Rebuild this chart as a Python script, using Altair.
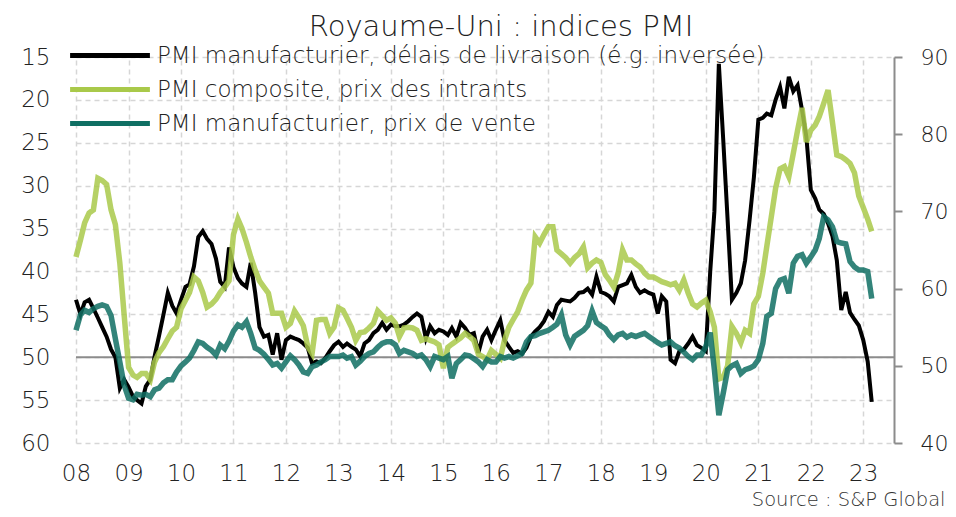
import altair as alt
import pandas as pd

# Monthly data, Jan 2008 -> Mar 2023
start, end = "2008-01-01", "2023-03-01"

delais_livraison = [  # PMI manufacturier, délais de livraison (left axis, inverted)
    43.3, 45.0, 43.6, 43.3, 44.3, 45.4, 46.5, 47.6, 49.1, 50.0, 53.6, 52.6,
    53.5, 54.6, 55.0, 55.4, 53.4, 52.6, 49.9, 47.5, 45.0, 42.5, 44.0, 44.9,
    43.3, 41.8, 41.5, 39.4, 36.0, 35.3, 36.2, 36.8, 38.5, 41.2, 41.8, 37.2,
    39.5, 40.8, 41.4, 41.8, 39.0, 42.5, 46.5, 47.6, 47.4, 49.7, 47.2, 50.3,
    48.0, 47.6, 47.8, 48.0, 48.4, 48.9, 50.7, 50.5, 50.7, 50.1, 49.3, 48.6,
    48.2, 48.8, 48.4, 48.8, 49.1, 49.9, 48.4, 48.0, 47.2, 46.8, 46.0, 46.8,
    46.2, 46.4, 46.4, 46.2, 45.8, 45.3, 44.9, 45.3, 47.8, 46.4, 47.2, 46.8,
    47.0, 47.4, 46.6, 47.6, 46.0, 46.6, 47.4, 47.2, 49.5, 47.6, 46.8, 48.0,
    46.8, 45.7, 48.0, 48.8, 49.5, 49.3, 49.6, 48.9, 47.6, 47.0, 46.5, 45.8,
    44.7, 45.3, 43.9, 43.3, 43.4, 43.5, 43.1, 42.5, 42.4, 42.0, 42.7, 40.6,
    42.4, 42.6, 42.9, 43.5, 41.8, 41.6, 41.4, 40.4, 41.8, 42.5, 42.2, 42.5,
    42.7, 44.9, 42.9, 43.5, 50.3, 50.7, 49.3, 49.1, 48.4, 47.6, 48.6, 48.9,
    49.3, 40.0, 33.0, 15.8, 24.5, 34.0, 43.3, 42.5, 41.4, 38.7, 34.0, 29.0,
    22.3, 22.1, 21.6, 21.8, 20.0, 18.5, 21.0, 17.3, 19.0, 18.3, 21.2, 24.3,
    30.5, 31.5, 32.8, 33.3, 34.4, 35.9, 38.7, 44.5, 42.4, 44.8, 45.6, 46.3,
    48.0, 50.5, 55.2,
]

prix_intrants = [  # PMI composite, prix des intrants (right axis)
    64.1, 66.3, 68.5, 69.8, 70.2, 74.3, 74.0, 73.5, 70.2, 68.3, 63.3, 56.6,
    49.8, 48.8, 48.5, 49.0, 49.0, 48.2, 50.5, 51.7, 52.5, 53.5, 54.5, 55.0,
    57.4, 58.5, 59.5, 61.5, 61.0, 59.5, 57.6, 58.0, 58.6, 59.5, 60.2, 61.0,
    67.0, 69.0, 67.8, 66.0, 64.1, 62.4, 61.0, 60.2, 59.4, 56.8, 56.8, 56.8,
    55.0, 55.5, 57.1, 56.2, 55.2, 52.5, 51.6, 55.9, 56.0, 56.0, 54.2, 55.0,
    57.5, 57.2, 56.2, 55.0, 53.3, 54.3, 54.4, 54.9, 55.5, 57.1, 56.5, 55.9,
    56.2, 55.5, 53.8, 54.9, 55.0, 54.9, 54.6, 53.3, 53.5, 53.3, 53.1, 52.7,
    49.7, 52.4, 52.8, 53.2, 53.6, 54.2, 53.8, 53.3, 51.5, 51.2, 50.8, 52.0,
    51.5, 51.0, 53.3, 55.0, 56.0, 57.0, 58.5, 59.8, 60.7, 66.7, 65.9, 67.0,
    68.0, 68.0, 65.0, 64.5, 64.0, 63.3, 64.0, 64.5, 65.4, 62.7, 63.3, 63.7,
    63.4, 61.8, 61.1, 60.2, 62.0, 65.0, 63.7, 63.7, 63.2, 62.8, 62.0, 61.5,
    61.5, 61.2, 60.9, 60.7, 60.5, 60.7, 59.8, 61.1, 59.4, 58.0, 57.6, 58.1,
    58.5, 57.0, 55.0, 48.3, 48.5, 50.0, 55.1, 54.2, 53.0, 54.6, 54.2, 58.0,
    59.0, 62.0, 65.5, 69.3, 73.0, 75.5, 75.8, 74.5, 77.5, 80.5, 83.4, 79.0,
    80.5, 81.2, 82.3, 84.0, 85.7, 81.5, 77.3, 77.1, 76.7, 76.2, 75.0, 72.0,
    70.5, 69.0, 67.4,
]

prix_vente = [  # PMI manufacturier, prix de vente (right axis)
    54.6, 56.6, 57.2, 56.9, 57.4, 57.7, 57.9, 57.7, 56.5, 53.5, 50.5, 47.5,
    45.8, 45.6, 46.3, 46.2, 46.3, 46.0, 46.9, 47.1, 47.8, 48.2, 48.2, 49.2,
    50.0, 50.5, 51.0, 52.0, 53.1, 52.9, 52.4, 52.0, 51.4, 52.7, 52.2, 53.2,
    54.5, 55.3, 55.0, 55.7, 54.2, 52.3, 52.0, 51.5, 50.8, 50.1, 50.3, 49.7,
    50.5, 51.3, 50.8, 50.1, 49.2, 49.0, 49.9, 50.1, 50.5, 50.8, 51.2, 51.2,
    51.2, 51.4, 51.0, 51.2, 50.1, 50.6, 51.2, 51.6, 51.8, 52.4, 52.9, 53.1,
    53.1, 52.7, 51.6, 52.0, 51.8, 51.6, 51.2, 51.4, 50.8, 49.9, 51.2, 51.0,
    50.8, 51.2, 48.4, 50.3, 50.8, 51.4, 51.3, 50.9, 50.5, 49.9, 50.8, 50.5,
    50.5, 51.2, 51.0, 51.2, 51.0, 51.3, 51.6, 53.1, 53.8, 53.9, 54.2, 54.4,
    54.6, 55.0, 55.4, 56.6, 54.0, 52.7, 53.8, 54.2, 54.6, 55.2, 57.1, 55.6,
    55.2, 54.8, 54.0, 53.4, 54.0, 54.2, 53.7, 54.0, 53.8, 54.0, 54.2, 53.8,
    53.4, 53.0, 52.7, 52.9, 53.1, 52.6, 52.3, 51.8, 51.2, 50.8, 51.4, 51.4,
    52.5, 54.3, 49.5, 43.6, 46.4, 49.5, 50.0, 50.3, 49.0, 49.5, 49.7, 50.0,
    50.8, 52.9, 56.4, 56.8, 60.0, 61.1, 61.3, 59.4, 63.3, 64.2, 64.4, 63.3,
    64.1, 65.0, 66.5, 69.3, 68.9, 68.0, 66.1, 65.9, 65.8, 63.5, 62.8, 62.4,
    62.4, 62.2, 58.7,
]

series_names = [
    "PMI manufacturier, délais de livraison (é.g. inversée)",
    "PMI composite, prix des intrants",
    "PMI manufacturier, prix de vente",
]
series_colors = ["#000000", "#a9c94a", "#0f6f63"]
left_ticks = [15, 20, 25, 30, 35, 40, 45, 50, 55, 60]
right_ticks = [40, 50, 60, 70, 80, 90]
year_ticks = list(range(2008, 2024))

dates = pd.date_range(start, end, freq="MS").strftime("%Y-%m-%d")

df_left = pd.DataFrame({"date": dates, "value": delais_livraison, "serie": series_names[0]})
df_right = pd.concat([
    pd.DataFrame({"date": dates, "value": prix_intrants, "serie": series_names[1]}),
    pd.DataFrame({"date": dates, "value": prix_vente, "serie": series_names[2]}),
])
df_ref = pd.DataFrame({"ref": [50]})

FONT = "DejaVu Sans"
W = 200  # light weight
GRID = dict(grid=True, gridColor="#d6d6d6", gridDash=[5, 4], gridWidth=1.5)

x_enc = alt.X(
    "date:T",
    scale=alt.Scale(domain=[alt.DateTime(year=2008, month=1, date=1),
                            alt.DateTime(year=2023, month=8, date=3)]),
    axis=alt.Axis(
        values=[alt.DateTime(year=y, month=1, date=1) for y in year_ticks],
        format="%y", domain=False, ticks=False, labelPadding=19, labelFlush=False,
        labelFontSize=23, labelColor="#222222", labelFont=FONT, labelFontWeight=W,
        title="Source : S&P Global", titleFontSize=19.5, titleFontWeight=W,
        titleColor="#333333", titleFont=FONT, titleAlign="right",
        titleBaseline="alphabetic", titleX=869, titleY=62,
        **GRID,
    ),
)

# legend line: custom path spanning 80 px (size 1444 -> unit = 19 px)
color_enc = alt.Color(
    "serie:N",
    scale=alt.Scale(domain=series_names, range=series_colors),
    legend=alt.Legend(
        orient="none", legendX=12.5, legendY=-23, title=None,
        symbolType="M-2.1,0H2.1", symbolSize=1444, symbolStrokeWidth=5,
        symbolOpacity=1, labelFontSize=23, labelFont=FONT, labelColor="#222222",
        labelFontWeight=W, labelOffset=25.5, labelLimit=900, rowPadding=0, padding=0,
    ),
)

left_scale = alt.Scale(domain=[15, 60], reverse=True)
left_axis = alt.Axis(values=left_ticks, orient="left", domain=False, ticks=False,
                     labelPadding=26, labelFontSize=23, labelColor="#222222",
                     labelFont=FONT, labelFontWeight=W, title=None, **GRID)

ref_rule = alt.Chart(df_ref).mark_rule(color="#8c8c8c", strokeWidth=2).encode(
    y=alt.Y("ref:Q", scale=left_scale, axis=left_axis)
)

black_line = alt.Chart(df_left).mark_line(strokeWidth=4).encode(
    x=x_enc,
    y=alt.Y("value:Q", scale=left_scale, axis=left_axis),
    color=color_enc,
)

left = alt.layer(ref_rule, black_line)

right = alt.Chart(df_right).mark_line(strokeWidth=5.5, opacity=0.85).encode(
    x=x_enc,
    y=alt.Y(
        "value:Q", scale=alt.Scale(domain=[40, 90]),
        axis=alt.Axis(values=right_ticks, orient="right", grid=False,
                      domainColor="#8c8c8c", domainWidth=2, tickColor="#8c8c8c",
                      tickWidth=2, tickSize=8, labelPadding=18, labelFontSize=22,
                      labelColor="#222222", labelFont=FONT, labelFontWeight=W,
                      title=None),
    ),
    color=color_enc,
)

chart = (
    alt.layer(left, right)
    .resolve_scale(y="independent")
    .properties(
        width=818, height=386,
        autosize=alt.AutoSizeParams(type="none"),
        padding={"left": 68, "top": 49, "right": 54, "bottom": 66},
        title=alt.TitleParams(
            "Royaume-Uni : indices PMI", fontSize=29, fontWeight=W,
            font=FONT, color="#222222", anchor="middle", dx=16,
            frame="group", offset=-8,
        ),
    )
    .configure_view(stroke=None)
)

chart.save("out.html", embed_options={"renderer": "svg", "actions": False})
